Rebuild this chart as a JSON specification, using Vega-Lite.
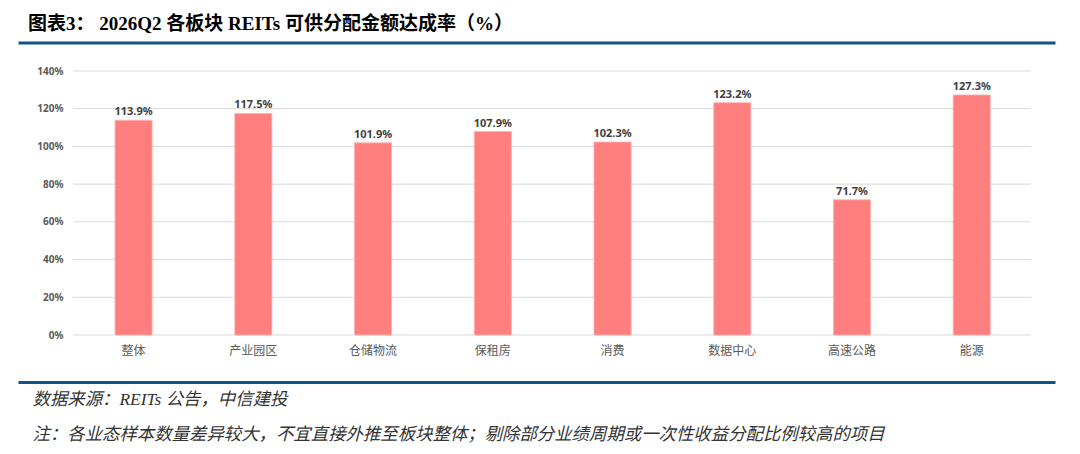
{
  "$schema": "https://vega.github.io/schema/vega-lite/v6.json",
  "autosize": {"type": "none"},
  "padding": {"left": 18, "top": 71, "right": 25, "bottom": 119},
  "width": 1037,
  "height": 264,
  "background": "white",
  "title": {
    "text": "图表3：  2026Q2 各板块 REITs 可供分配金额达成率（%）",
    "anchor": "start",
    "frame": "group",
    "dx": 10,
    "offset": 9,
    "font": "Liberation Serif, Noto Sans CJK SC",
    "fontSize": 19,
    "fontWeight": "bold",
    "color": "#000000"
  },
  "datasets": {
    "rates": [
      {"sector": "整体", "rate": 113.9},
      {"sector": "产业园区", "rate": 117.5},
      {"sector": "仓储物流", "rate": 101.9},
      {"sector": "保租房", "rate": 107.9},
      {"sector": "消费", "rate": 102.3},
      {"sector": "数据中心", "rate": 123.2},
      {"sector": "高速公路", "rate": 71.7},
      {"sector": "能源", "rate": 127.3}
    ],
    "ticks": [
      {"tick": 0}, {"tick": 20}, {"tick": 40}, {"tick": 60},
      {"tick": 80}, {"tick": 100}, {"tick": 120}, {"tick": 140}
    ]
  },
  "config": {
    "view": {"stroke": null},
    "font": "Noto Sans CJK SC",
    "axisY": {"labelOverlap": false, "labelBound": false}
  },
  "resolve": {"axis": {"x": "independent"}},
  "layer": [
    {
      "data": {"name": "ticks"},
      "mark": {"type": "rule", "color": "#D9D9D9", "strokeWidth": 1},
      "encoding": {
        "x": {
          "datum": "整体",
          "type": "nominal",
          "bandPosition": -1.13,
          "scale": {
            "domain": ["整体", "产业园区", "仓储物流", "保租房", "消费", "数据中心", "高速公路", "能源"],
            "paddingInner": 0.69,
            "paddingOuter": 0.675,
            "align": 0.6
          },
          "axis": {
            "orient": "top",
            "offset": 28.5,
            "domainColor": "#105385",
            "domainWidth": 3,
            "labels": false,
            "ticks": false,
            "grid": false,
            "title": null
          }
        },
        "x2": {"datum": "能源", "bandPosition": 2.096},
        "y": {
          "field": "tick",
          "type": "quantitative",
          "scale": {"domain": [0, 140], "nice": false},
          "axis": {
            "values": [0, 20, 40, 60, 80, 100, 120, 140],
            "tickCount": 8,
            "labelExpr": "datum.value + '%'",
            "labelOverlap": false,
            "offset": -55,
            "domain": false,
            "ticks": false,
            "grid": false,
            "labelPadding": 10,
            "labelFont": "Noto Sans",
            "labelFontSize": 10,
            "labelFontWeight": "bold",
            "labelColor": "#595959",
            "title": null
          }
        }
      }
    },
    {
      "data": {"name": "rates"},
      "mark": {"type": "bar", "color": "#FF7F7F", "stroke": "#FFB3B3", "strokeWidth": 0.8},
      "encoding": {
        "x": {
          "field": "sector",
          "type": "nominal",
          "sort": null,
          "scale": {
            "domain": ["整体", "产业园区", "仓储物流", "保租房", "消费", "数据中心", "高速公路", "能源"],
            "paddingInner": 0.69,
            "paddingOuter": 0.675,
            "align": 0.6
          },
          "axis": {
            "orient": "bottom",
            "offset": 47,
            "domainColor": "#105385",
            "domainWidth": 3,
            "ticks": false,
            "grid": false,
            "labelAngle": 0,
            "labelOverlap": false,
            "labelPadding": -37,
            "labelFont": "Noto Sans CJK SC",
            "labelFontSize": 12,
            "labelColor": "#595959",
            "title": [
              "数据来源：REITs 公告，中信建投",
              "注：各业态样本数量差异较大，不宜直接外推至板块整体；剔除部分业绩周期或一次性收益分配比例较高的项目"
            ],
            "titleFont": "Liberation Serif, Noto Sans CJK SC",
            "titleFontSize": 17.4,
            "titleFontStyle": "italic",
            "titleFontWeight": "normal",
            "titleColor": "#333333",
            "titleAlign": "left",
            "titleBaseline": "top",
            "titleAnchor": "start",
            "titleX": 14,
            "titleY": 8,
            "titleLineHeight": 35
          }
        },
        "y": {
          "field": "rate",
          "type": "quantitative",
          "axis": {
            "values": [0, 20, 40, 60, 80, 100, 120, 140],
            "tickCount": 8,
            "labelExpr": "datum.value + '%'",
            "labelOverlap": false,
            "offset": -55,
            "domain": false,
            "ticks": false,
            "grid": false,
            "labelPadding": 10,
            "labelFont": "Noto Sans",
            "labelFontSize": 10,
            "labelFontWeight": "bold",
            "labelColor": "#595959",
            "title": null
          }
        }
      }
    },
    {
      "data": {"name": "rates"},
      "mark": {
        "type": "text",
        "baseline": "bottom",
        "dy": -3,
        "font": "Noto Sans",
        "fontSize": 11,
        "fontWeight": "bold",
        "color": "#404040",
        "text": {"expr": "format(datum.rate, '.1f') + '%'"}
      },
      "encoding": {
        "x": {"field": "sector", "type": "nominal", "sort": null, "axis": null},
        "y": {"field": "rate", "type": "quantitative"}
      }
    }
  ]
}
